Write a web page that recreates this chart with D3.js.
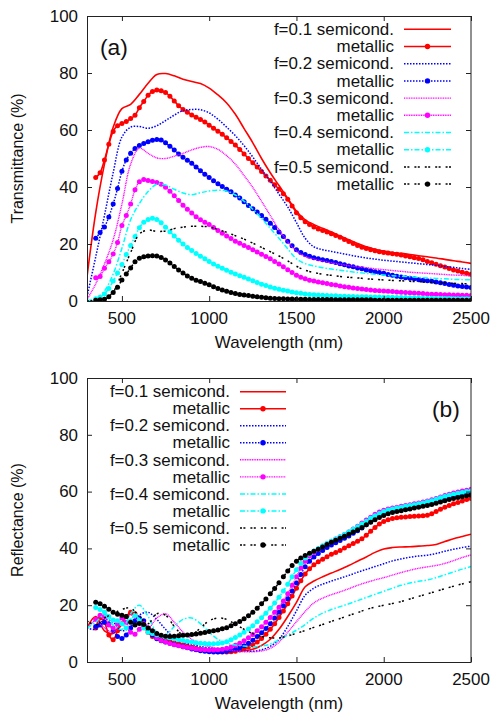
<!DOCTYPE html>
<html><head><meta charset="utf-8">
<script src="https://cdn.jsdelivr.net/npm/d3@7"></script>
<style>body{margin:0;background:#fff}svg{display:block}</style>
</head><body>
<svg id="chart" width="494" height="714"></svg>
<script>
// ---------- DATA ----------
const wlSemi = d3.range(300, 2501, 50);   // wavelength grid of semiconducting curves (nm)
const wlMet  = d3.range(350, 2501, 25);   // wavelength grid of metallic curves (nm)
const xTicks = [500, 1000, 1500, 2000, 2500];
const yTicks = [0, 20, 40, 60, 80, 100];
const fLabels = ["f=0.1 semicond.", "f=0.2 semicond.", "f=0.3 semicond.", "f=0.4 semicond.", "f=0.5 semicond."];
const metLabel = "metallic";

// Transmittance (%) — semiconducting, 300..2500 step 50
const tSemi1 = [8.5,31, 48,61, 67.5,69, 72.5,76.4, 79.5,79.8, 79,77.8, 77,76.3, 74.7,72.3, 69.5,65.5, 60.5,55.5, 50,45, 40.5,36, 31.5,28.5, 26.8,25.5, 24.2,22.8, 21.5,20.2, 19,18.2, 17.5,17, 16.7,16.3, 15.9,15.5, 15.1,14.6, 14.1,13.7, 13.2];
const tSemi2 = [1.5,15.5, 30,45, 57.5,61, 61.2,60.6, 61.5,63.3, 65.2,66.8, 67.2,67.1, 66,63.8, 61,58, 54.5,50.5, 46.2,42, 37.5,33, 27.5,22, 19,18, 17.4,16.8, 16.2,15.6, 15.1,14.7, 14.3,14, 13.7,13.4, 13.1,12.8, 12.5,12.1, 11.8,11.4, 11.1];
const tSemi3 = [0.5,6, 13,21.5, 34,48, 53.6,51.8, 50.2,50, 50.8,51.8, 53,53.9, 54.2,53.2, 51,48, 44,39.8, 35,30, 25,20.8, 17.5,15.6, 14.7,14, 13.4,12.9, 12.4,12, 11.7,11.3, 11,10.7, 10.4,10.1, 9.9,9.7, 9.5,9.3, 9.1,9, 8.8];
const tSemi4 = [0.2,0.8, 3.5,9.5, 18.5,28.5, 34.2,38.4, 41,40.7, 39.2,37.9, 37.3,38, 38.6,38.9, 38.6,37.2, 35,32.2, 29,25.5, 22,18.3, 14.8,13.1, 12.3,11.7, 11.2,10.8, 10.4,10, 9.7,9.4, 9.1,8.9, 8.7,8.5, 8.3,8.1, 7.9,7.8, 7.6,7.5, 7.4];
const tSemi5 = [0,0.2, 0.8,3.2, 9.8,17, 23.5,24.9, 24.4,24.6, 25.4,25.9, 26.2,26.2, 26,25.1, 24.1,22.9, 21.7,20.3, 18.8,17.3, 15.8,14.1, 12.2,10.8, 10,9.4, 9,8.6, 8.3,8.1, 7.8,7.6, 7.4,7.2, 7.1,6.9, 6.8,6.6, 6.5,6.4, 6.2,6.1, 6];

// Transmittance (%) — metallic, 350..2500 step 25
const tMet1 = [43.3,45,
 49.5,55,59.5,61.5, 62.3,63,64,65.2, 67.8,70,72.2,73.5, 74,73.8,73.2,71.8, 70.2,68.5,67.2,66.2,
 65.3,64.5,63.7,62.8, 61.7,60.6,59.6,58.5, 57.3,56,54.7,53.2, 51.6,50,48.5,47, 45.4,43.9,42.4,40.8,
 39.2,37.6,35.7,33.3, 31,29.2,27.8,26.8, 26,25.3,24.7,24.2, 23.6,23,22.4,21.6, 20.9,20.2,19.5,18.9,
 18.4,18,17.6,17.3, 17,16.8,16.6,16.4, 16.1,15.8,15.5,15.2, 14.9,14.5,13.9,13.4, 12.9,12.4,11.9,11.4,
 10.9,10.5,10.1,9.7, 9.4];
const tMet2 = [22,24,
 26,29.5,34,39.5, 45.5,49.5,51.8,53.5, 54.6,55.3,55.9,56.4, 56.7,56.5,55.5,54.3, 53,51.6,50.4,49.4,
 48.3,47,45.7,44.5, 43.3,42.2,41.1,40.2, 39.2,38.3,37.2,36.1, 34.8,33.5,32.4,31.2, 30,28.7,27.3,25.8,
 24.2,22.6,21,19.4, 18,17,16.3,15.7, 15.2,14.8,14.5,14.2, 13.9,13.5,13.1,12.7, 12.3,12,11.6,11.3,
 10.9,10.6,10.3,10, 9.7,9.3,9,8.7, 8.4,8.2,8,7.8, 7.5,7.3,7.1,6.9, 6.7,6.4,6.1,5.8,
 5.5,5.3,5.1,4.9, 4.7];
const tMet3 = [8.2,8.6,
 11.5,13.8,16.5,20.5, 26.5,30,34,39, 41.8,42.6,42.3,41.9, 41.6,41,39.9,38.5, 36.9,35.3,33.6,32.2,
 30.9,29.6,28.5,27.6, 26.8,25.8,24.7,23.8, 22.8,21.9,21,20.3, 19.5,18.8,18,17.2, 16.4,15.6,14.8,13.9,
 13,12,11,10, 9,8.3,7.8,7.3, 7,6.7,6.4,6.1, 5.8,5.6,5.3,5, 4.8,4.6,4.4,4.2,
 4,3.9,3.7,3.6, 3.5,3.4,3.3,3.2, 3.1,3,2.9,2.8, 2.7,2.6,2.5,2.4, 2.4,2.3,2.2,2.2,
 2.1,2.1,2,2, 1.9];
const tMet4 = [0.8,1.3,
 2.5,4.4,7,9.8, 12.8,16.3,19.5,22.6, 25.7,27.6,28.6,29, 28.6,27.5,25.9,24.3, 22.8,21.3,20,18.8,
 17.7,16.7,15.7,14.8, 13.9,13,12.2,11.5, 10.8,10.1,9.5,8.9, 8.3,7.7,7.1,6.5, 5.9,5.4,4.9,4.5,
 4.1,3.8,3.5,3.2, 2.9,2.7,2.5,2.3, 2.2,2.1,2,1.9, 1.8,1.8,1.7,1.7, 1.6,1.6,1.5,1.5,
 1.5,1.4,1.4,1.4, 1.3,1.3,1.3,1.2, 1.2,1.2,1.1,1.1, 1.1,1,1,1, 0.9,0.9,0.9,0.9,
 0.8,0.8,0.8,0.8, 0.8];
const tMet5 = [0.3,0.4,
 0.6,1.5,3,4.8, 7.4,9.5,11.6,13.8, 15,15.5,15.8,15.9, 15.8,15.3,14.4,13.3, 12.1,10.9,9.8,8.8,
 8,7.3,6.8,6.2, 5.7,5,4.4,3.9, 3.4,3,2.6,2.3, 2.1,1.9,1.7,1.5, 1.3,1.1,1,0.9,
 0.8,0.8,0.7,0.7, 0.6,0.6,0.6,0.5, 0.5,0.5,0.5,0.5, 0.5,0.4,0.4,0.4, 0.4,0.4,0.4,0.4,
 0.4,0.4,0.3,0.3, 0.3,0.3,0.3,0.3, 0.3,0.3,0.3,0.3, 0.3,0.3,0.3,0.3, 0.3,0.3,0.3,0.3,
 0.3,0.3,0.3,0.3, 0.3];

// Reflectance (%) — semiconducting, 300..2500 step 50
const rSemi1 = [12,16, 11,10, 14,17, 15,11.5, 8.5,7.2, 6.5,5.8, 5.2,4.7, 4.3,4, 3.8,3.8, 4,4.5, 5.8,8, 11.5,16, 21,26.5, 28.5,30, 31.3,32.6, 34,35.5, 37,38.6, 39.8,40.3, 40.5,40.6, 40.8,41, 41.4,42.4, 43.4,44.2, 45];
const rSemi2 = [12,11.5, 15,14, 11,12.5, 16.5,17.5, 15,11.5, 8.5,7, 6.2,5.5, 5,4.6, 4.3,4, 3.8,3.8, 4.3,5.5, 8,12.5, 18,23.5, 26,27.4, 28.5,29.5, 30.5,31.6, 32.6,33.6, 34.6,35.6, 36.3,36.9, 37.3,37.6, 38.2,39, 39.7,40.3, 40.8];
const rSemi3 = [12,14.5, 12,10.5, 14,16.5, 14,12, 15.5,17, 14,10.5, 8,6.5, 5.5,4.8, 4.3,3.9, 3.6,3.6, 3.9,4.8, 7,10.5, 14.2,17.8, 20.8,22.5, 23.7,24.7, 25.8,27, 28,28.9, 29.7,30.6, 31.5,32.3, 33,33.5, 34,34.7, 35.7,36.8, 37.7];
const rSemi4 = [12,14, 16.5,13, 11.5,17, 20,16, 10.5,9.5, 12.5,15, 15.5,13.5, 10.5,8, 6.6,6, 5.6,5.4, 5.6,6.3, 7.8,9.5, 11.2,13.2, 15.5,17.2, 18.5,19.5, 20.5,21.6, 22.7,23.8, 24.9,26, 27,27.8, 28.4,28.9, 29.7,30.7, 31.7,32.7, 33.6];
const rSemi5 = [14.5,13, 15.5,17, 18.5,19, 16,13.5, 17,16.5, 12.5,9.5, 9.5,12, 14.5,15.5, 15,13.3, 11.5,10, 9,8.5, 8.5,9.2, 10.1,11.1, 12.2,13.2, 14.3,15.3, 16.4,17.4, 18.5,19.3, 20,20.6, 21.3,22.2, 23.1,24, 24.9,25.8, 26.7,27.5, 28.3];

// Reflectance (%) — metallic, 350..2500 step 25
const rMet1 = [12,15.5,
 14,9.5,7.8,11, 13.5,16,17.5,17, 14.5,12.5,10.5,9, 8.5,8,7.5,7.2, 6.8,6.4,6,5.6,
 5.2,4.8,4.5,4.2, 4,3.8,3.6,3.5, 3.5,3.6,3.8,4.2, 4.7,5.3,6,7, 8.3,9.8,11.5,13.5,
 15.7,18,20.5,23.2, 26,28.6,31,32.8, 34.2,35.3,36.2,37.1, 37.9,38.6,39.3,40.1, 40.9,41.7,42.5,43.4,
 44.6,46,47.4,48.6, 49.5,50.1,50.5,50.8, 51,51.1,51.2,51.3, 51.4,51.5,51.7,52.2, 53,53.8,54.5,55.1,
 55.7,56.2,56.7,57.2, 57.6];
const rMet2 = [12.5,13,
 14,13.5,11,9, 8.3,9.5,12,14.5, 15.5,14.5,11.5,9.5, 8.2,7.5,7,6.6, 6.2,5.8,5.4,5,
 4.6,4.3,4,3.8, 3.6,3.5,3.5,3.6, 3.8,4.1,4.5,5, 5.7,6.6,7.7,9, 10.3,11.8,13.5,15.5,
 17.5,19.8,22.3,25, 27.8,30.8,33.5,35.5, 37,38.2,39.3,40.3, 41.2,42,42.8,43.6, 44.4,45.3,46.2,47.2,
 48.3,49.4,50.5,51.4, 52.1,52.7,53.1,53.4, 53.7,54,54.3,54.6, 54.9,55.2,55.6,56, 56.5,57,57.5,57.9,
 58.3,58.7,59.1,59.5, 59.8];
const rMet3 = [15,16.5,
 16,13,12,13.5, 15.5,14,10.5,9.8, 11.5,13.5,12,10, 8.5,7.6,7,6.5, 6.1,5.7,5.4,5.1,
 4.8,4.6,4.4,4.3, 4.2,4.2,4.3,4.5, 4.8,5.3,5.9,6.6, 7.5,8.5,9.7,11, 12.4,14,15.7,17.5,
 19.3,21.5,24,27, 30,33,35.5,37.3, 38.6,39.7,40.7,41.6, 42.5,43.3,44.1,44.9, 45.8,46.8,47.8,48.9,
 50,51,52,52.8, 53.4,53.9,54.2,54.5, 54.8,55.1,55.4,55.7, 56,56.3,56.7,57.1, 57.6,58.1,58.6,59.1,
 59.5,59.9,60.2,60.5, 60.8];
const rMet4 = [19.2,18.5,
 17.5,16,14.8,14.5, 13.5,12,14.5,16.5, 15,12,10.5,10, 9.6,9.2,8.8,8.5, 8.2,7.9,7.6,7.3,
 7,6.8,6.6,6.5, 6.4,6.4,6.5,6.7, 7.1,7.8,8.6,9.5, 10.5,11.6,12.8,14.2, 15.6,17.2,18.9,20.8,
 22.8,25,27.4,30, 32.5,34.7,36.6,38, 39.1,40,40.9,41.7, 42.5,43.3,44.1,44.9, 45.8,46.7,47.6,48.6,
 49.6,50.6,51.5,52.3, 53,53.5,53.9,54.2, 54.5,54.8,55.1,55.4, 55.7,56,56.4,56.8, 57.3,57.8,58.3,58.7,
 59.1,59.4,59.7,60, 60.2];
const rMet5 = [21,20.5,
 19.6,18.6,17.5,16.8, 16.5,16,14,13, 13.6,13.2,12,11, 10,9.4,9.1,9, 9.1,9.2,9.4,9.5,
 9.7,9.9,10.1,10.4, 10.7,11,11.3,11.7, 12.1,12.8,13.5,14.3, 15.2,16.3,17.5,18.9, 20.5,22.2,24,25.9,
 27.9,30,32,34, 35.5,36.6,37.5,38.3, 39,39.7,40.5,41.4, 42.2,42.9,43.6,44.3, 45,45.8,46.6,47.4,
 48.3,49.2,50.1,50.9, 51.6,52.2,52.6,53, 53.3,53.6,53.9,54.2, 54.5,54.8,55.1,55.5, 55.9,56.3,56.8,57.2,
 57.6,57.9,58.2,58.5, 58.8];

// ---------- STYLE ----------
const colors = ["#ff0000", "#0000ff", "#ff00ff", "#00ffff", "#000000"];
const dashes = [null, "1.5,1.5", "1,0.7", "5,2,1.5,2", "2,1.4,2,5"];
const widths = [1.6, 1.5, 1.4, 1.5, 1.5];
const FONT = '"Liberation Sans", Arial, Helvetica, sans-serif';
const SX = 1.06;

const svg = d3.select("#chart");

function txt(g, x, y, s, size, anchor) {
  return g.append("text")
    .attr("transform", `translate(${x},${y}) scale(${SX},1)`)
    .attr("text-anchor", anchor).attr("font-size", size)
    .attr("font-family", FONT).attr("fill", "#111").text(s);
}

function panel(cfg) {
  const g = svg.append("g");
  const x = d3.scaleLinear().domain([300, 2500]).range([87, 471]);
  const y = d3.scaleLinear().domain([0, 100]).range([cfg.bottom, cfg.top]);
  const clipId = "clip" + cfg.id;
  svg.append("clipPath").attr("id", clipId).append("rect")
    .attr("x", 87).attr("y", cfg.top).attr("width", 384).attr("height", cfg.bottom - cfg.top);

  const line = d3.line().x(d => x(d[0])).y(d => y(d[1])).curve(d3.curveCatmullRom.alpha(0.5));
  const plot = g.append("g").attr("clip-path", `url(#${clipId})`);
  const lg = g.append("g");

  for (let i = 0; i < 5; i++) {
    const semi = wlSemi.map((w, k) => [w, cfg.semi[i][k]]);
    const met = wlMet.map((w, k) => [w, cfg.met[i][k]]);
    const styleLine = sel => sel.attr("fill", "none").attr("stroke", colors[i])
      .attr("stroke-width", widths[i]).attr("stroke-dasharray", dashes[i]);
    plot.append("path").datum(semi).attr("d", line).call(styleLine);
    plot.append("path").datum(met).attr("d", line).call(styleLine);
    plot.append("g").selectAll("circle").data(met).join("circle")
      .attr("cx", d => x(d[0])).attr("cy", d => y(d[1])).attr("r", 2.5).attr("fill", colors[i]);

    const r1 = cfg.legY + cfg.legDy * (2 * i), r2 = cfg.legY + cfg.legDy * (2 * i + 1);
    txt(lg, cfg.legTextX, r1 + 5.7, fLabels[i], 16, "end");
    txt(lg, cfg.legTextX, r2 + 5.7, metLabel, 16, "end");
    lg.append("line").attr("x1", cfg.legL0).attr("x2", cfg.legL1).attr("y1", r1).attr("y2", r1).call(styleLine);
    lg.append("line").attr("x1", cfg.legL0).attr("x2", cfg.legL1).attr("y1", r2).attr("y2", r2).call(styleLine);
    lg.append("circle").attr("cx", (cfg.legL0 + cfg.legL1) / 2).attr("cy", r2).attr("r", 2.7).attr("fill", colors[i]);
  }

  const tick = 5;
  g.append("g").attr("transform", `translate(0,${cfg.bottom})`)
    .call(d3.axisBottom(x).tickValues(xTicks).tickSize(-tick).tickFormat(""));
  g.append("g").attr("transform", `translate(0,${cfg.top})`)
    .call(d3.axisTop(x).tickValues(xTicks).tickSize(-tick).tickFormat(""));
  g.append("g").attr("transform", `translate(87,0)`)
    .call(d3.axisLeft(y).tickValues(yTicks).tickSize(-tick).tickFormat(""));
  g.append("g").attr("transform", `translate(471,0)`)
    .call(d3.axisRight(y).tickValues(yTicks).tickSize(-tick).tickFormat(""));
  g.selectAll(".domain").remove();
  g.selectAll(".tick line").attr("stroke", "#222");
  g.append("rect").attr("x", 87.5).attr("y", cfg.top + 0.5).attr("width", 383.5)
    .attr("height", cfg.bottom - cfg.top).attr("fill", "none").attr("stroke", "#222").attr("stroke-width", 1);

  xTicks.forEach(t => txt(g, x(t), cfg.bottom + 23, String(t), 16, "middle"));
  yTicks.forEach(t => txt(g, 78, y(t) + 5.7, String(t), 16, "end"));

  txt(g, 279, cfg.bottom + 47, "Wavelength (nm)", 16, "middle");
  g.append("text").attr("transform", `translate(23,${(cfg.top + cfg.bottom) / 2}) rotate(-90)`)
    .attr("text-anchor", "middle").attr("font-size", 16).attr("font-family", FONT)
    .attr("fill", "#111").text(cfg.ylabel);

  txt(g, cfg.tagX, cfg.tagY, cfg.tag, 21.5, "start");
}

panel({
  id: "a", top: 16, bottom: 301, ylabel: "Transmittance (%)",
  semi: [tSemi1, tSemi2, tSemi3, tSemi4, tSemi5],
  met: [tMet1, tMet2, tMet3, tMet4, tMet5],
  legY: 29.3, legDy: 17.2, legTextX: 394, legL0: 404, legL1: 451,
  tag: "(a)", tagX: 100, tagY: 55
});
panel({
  id: "b", top: 378, bottom: 662, ylabel: "Reflectance (%)",
  semi: [rSemi1, rSemi2, rSemi3, rSemi4, rSemi5],
  met: [rMet1, rMet2, rMet3, rMet4, rMet5],
  legY: 391.7, legDy: 17.03, legTextX: 230, legL0: 240, legL1: 286,
  tag: "(b)", tagX: 432, tagY: 417
});
</script>
</body></html>
